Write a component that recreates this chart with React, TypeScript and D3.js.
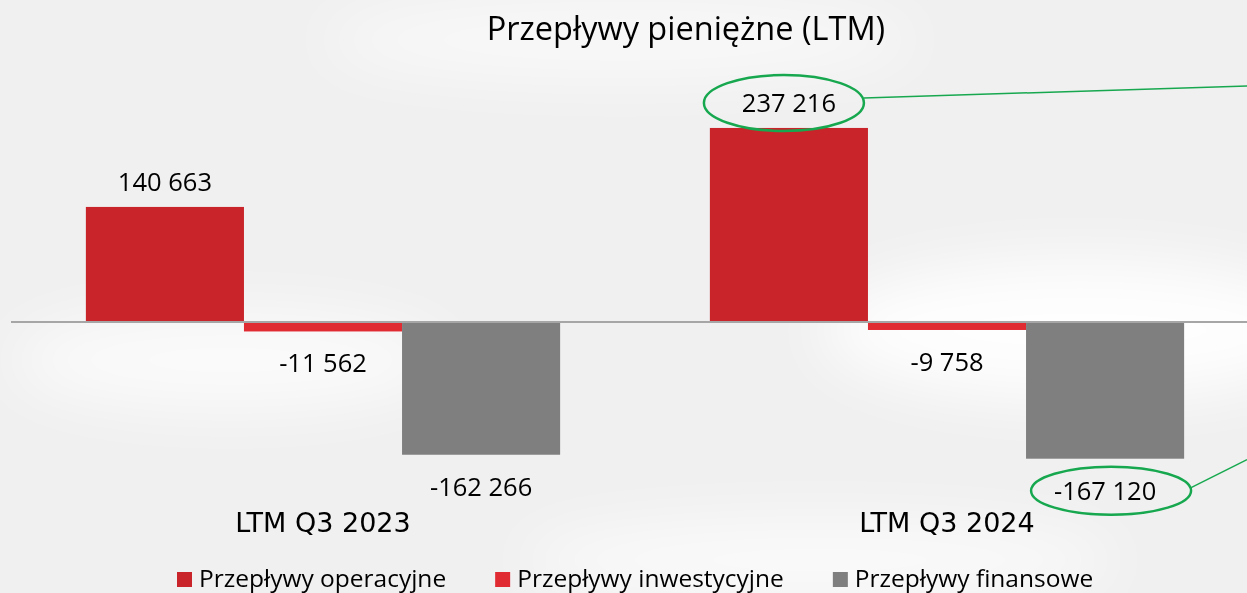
import React, { useEffect, useRef } from "react";
import * as d3 from "d3";

const WIDTH = 1247;
const HEIGHT = 593;

const TITLE = "Przepływy pieniężne (LTM)";
const PERIODS = ["LTM Q3 2023", "LTM Q3 2024"];
const SERIES = ["Przepływy operacyjne", "Przepływy inwestycyjne", "Przepływy finansowe"];
const OPERATING = [140663, 237216];
const INVESTING = [-11562, -9758];
const FINANCING = [-162266, -167120];
const COLORS = ["#c9242a", "#e12b33", "#7f7f7f"];
// labels circled in green on the slide: [period, series]
const HIGHLIGHTS = [
    ["LTM Q3 2024", "Przepływy operacyjne"],
    ["LTM Q3 2024", "Przepływy finansowe"],
];

const LABEL_FONT = "'Open Sans', 'Noto Sans', sans-serif";
const AXIS_FONT = "'DejaVu Sans', Verdana, sans-serif";
const GREEN = "#17a84f";

const fmt = (v: number) => {
    const s = d3.format(",")(Math.abs(v)).replace(/,/g, " ");
    return (v < 0 ? "-" : "") + s;
};

const App = () => {
    const svgRef = useRef<SVGSVGElement | null>(null);

    useEffect(() => {
        const svg = d3.select(svgRef.current);
        svg.selectAll("*").remove();

        const rows = PERIODS.flatMap((p, i) => [
            { period: p, series: SERIES[0], value: OPERATING[i] },
            { period: p, series: SERIES[1], value: INVESTING[i] },
            { period: p, series: SERIES[2], value: FINANCING[i] },
        ]);

        // background
        const defs = svg.append("defs");
        const blur = defs.append("filter").attr("id", "soft").attr("x", "-50%").attr("y", "-50%").attr("width", "200%").attr("height", "200%");
        blur.append("feGaussianBlur").attr("stdDeviation", 30);
        svg.append("rect").attr("width", WIDTH).attr("height", HEIGHT).attr("fill", "#f0f0f0");
        const glow = svg.append("g").attr("filter", "url(#soft)").attr("fill", "#ffffff");
        glow.append("ellipse").attr("cx", 1080).attr("cy", 330).attr("rx", 260).attr("ry", 70).attr("opacity", 0.9);
        glow.append("ellipse").attr("cx", 620).attr("cy", 40).attr("rx", 300).attr("ry", 40).attr("opacity", 0.6);
        glow.append("ellipse").attr("cx", 230).attr("cy", 360).attr("rx", 220).attr("ry", 50).attr("opacity", 0.7);
        glow.append("ellipse").attr("cx", 820).attr("cy", 560).attr("rx", 300).attr("ry", 40).attr("opacity", 0.7);

        // scales
        const x0 = d3.scaleBand<string>()
            .domain(PERIODS)
            .range([11, 1259])
            .paddingInner(0.24)
            .paddingOuter(0.12);
        const x1 = d3.scaleBand<string>()
            .domain(SERIES)
            .range([0, x0.bandwidth()]);
        const y = d3.scaleLinear()
            .domain([-200000, 250000])
            .range([485.6, 117.5]);
        const color = d3.scaleOrdinal<string, string>().domain(SERIES).range(COLORS);

        const plot = svg.append("g");

        // bars
        plot.selectAll("rect.bar")
            .data(rows)
            .join("rect")
            .attr("class", "bar")
            .attr("x", d => (x0(d.period) ?? 0) + (x1(d.series) ?? 0))
            .attr("width", x1.bandwidth())
            .attr("y", d => y(Math.max(0, d.value)))
            .attr("height", d => Math.abs(y(d.value) - y(0)))
            .attr("fill", d => color(d.series));

        // zero line
        plot.append("line")
            .attr("x1", 11).attr("x2", WIDTH)
            .attr("y1", y(0)).attr("y2", y(0))
            .attr("stroke", "#a6a6a6").attr("stroke-width", 2);

        // value labels
        const labelX = (d: any) => (x0(d.period) ?? 0) + (x1(d.series) ?? 0) + x1.bandwidth() / 2;
        const labelY = (d: any) => d.value >= 0 ? y(d.value) - 16 : y(d.value) + 41;
        plot.selectAll("text.val")
            .data(rows)
            .join("text")
            .attr("class", "val")
            .attr("x", labelX)
            .attr("y", labelY)
            .attr("text-anchor", "middle")
            .attr("font-family", LABEL_FONT)
            .attr("font-size", 25.5)
            .attr("fill", "#000")
            .text(d => fmt(d.value));

        // green call-outs
        const marked = rows.filter(r => HIGHLIGHTS.some(h => h[0] === r.period && h[1] === r.series));
        marked.forEach(d => {
            const cx = labelX(d) + (d.value < 0 ? 6 : -5);
            const cy = labelY(d) - 9;
            const rx = 80;
            const ry = d.value < 0 ? 24 : 28;
            plot.append("ellipse")
                .attr("cx", cx).attr("cy", cy).attr("rx", rx).attr("ry", ry)
                .attr("fill", "none").attr("stroke", GREEN).attr("stroke-width", 2.5);
            plot.append("line")
                .attr("x1", cx + rx).attr("y1", cy - (d.value < 0 ? 3 : 5))
                .attr("x2", WIDTH).attr("y2", d.value < 0 ? cy - 31 : cy - 17)
                .attr("stroke", GREEN).attr("stroke-width", 1.5);
        });

        // category labels
        plot.selectAll("text.cat")
            .data(PERIODS)
            .join("text")
            .attr("class", "cat")
            .attr("x", d => (x0(d) ?? 0) + x0.bandwidth() / 2)
            .attr("y", 532)
            .attr("text-anchor", "middle")
            .attr("font-family", AXIS_FONT)
            .attr("font-size", 27)
            .attr("fill", "#000")
            .text(d => d);

        // title
        svg.append("text")
            .attr("x", 686).attr("y", 40)
            .attr("text-anchor", "middle")
            .attr("font-family", LABEL_FONT)
            .attr("font-size", 32.5)
            .attr("fill", "#000")
            .text(TITLE);

        // legend
        const legend = svg.append("g").attr("transform", "translate(177,587)");
        let offset = 0;
        SERIES.forEach(s => {
            const item = legend.append("g").attr("transform", `translate(${offset},0)`);
            item.append("rect").attr("x", 0).attr("y", -15).attr("width", 15).attr("height", 15).attr("fill", color(s));
            const t = item.append("text")
                .attr("x", 22).attr("y", 0)
                .attr("font-family", LABEL_FONT)
                .attr("font-size", 24.5)
                .attr("fill", "#000")
                .text(s);
            const w = (t.node() as SVGTextElement).getComputedTextLength();
            offset += 22 + w + 49;
        });
    }, []);

    return (
        <svg
            ref={svgRef}
            width={WIDTH}
            height={HEIGHT}
            style={{ position: "absolute", left: 0, top: 0, display: "block" }}
        />
    );
};

export default App;
